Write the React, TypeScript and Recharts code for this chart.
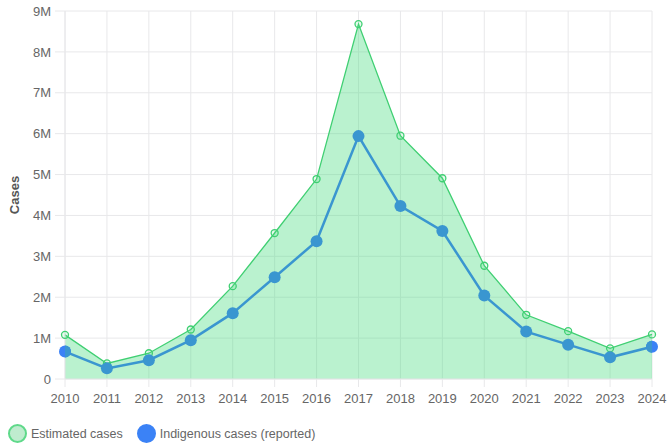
import { ComposedChart, Area, Line, XAxis, YAxis, CartesianGrid, Label } from "recharts";

const years = ["2010", "2011", "2012", "2013", "2014", "2015", "2016", "2017", "2018", "2019", "2020", "2021", "2022", "2023", "2024"];

// values in millions
const estimatedCases = [1.08, 0.38, 0.63, 1.21, 2.27, 3.57, 4.89, 8.68, 5.95, 4.91, 2.77, 1.57, 1.17, 0.75, 1.09];
const indigenousCases = [0.67, 0.26, 0.46, 0.95, 1.61, 2.49, 3.37, 5.94, 4.23, 3.62, 2.04, 1.16, 0.84, 0.53, 0.79];

const yTicks = [0, 1, 2, 3, 4, 5, 6, 7, 8, 9].map((m) => m * 1000000);

const data = years.map((year, i) => ({
  year,
  estimated: estimatedCases[i] * 1000000,
  indigenous: indigenousCases[i] * 1000000,
}));

const GREEN = "#3fcf72";
const GREEN_FILL = "#4ade80";
const BLUE = "#3b82f6";
// blue seen through the green fill
const BLUE_TINT = "#3a96d0";
const GRID = "#e8e8ea";
const FONT = "'Liberation Sans', Arial, Helvetica, sans-serif";

const formatCases = (v: number) => (v === 0 ? "0" : `${v / 1000000}M`);

// dots at the plot edges are half outside the green fill
const BlueDot = (props: any) => {
  const { cx, cy, index } = props;
  const r = 6;
  if (cx == null || cy == null) return null;
  const last = years.length - 1;
  if (index === 0 || index === last) {
    const side = index === 0 ? 1 : 0;
    return (
      <g key={`dot-${index}`}>
        <circle cx={cx} cy={cy} r={r} fill={BLUE} />
        <path
          d={`M ${cx} ${cy - r} A ${r} ${r} 0 0 ${side} ${cx} ${cy + r} Z`}
          fill={BLUE_TINT}
        />
      </g>
    );
  }
  return <circle key={`dot-${index}`} cx={cx} cy={cy} r={r} fill={BLUE_TINT} />;
};

const LegendItem = ({ color, fill, label }: { color: string; fill: string; label: string }) => (
  <div style={{ display: "flex", alignItems: "center", marginRight: 14 }}>
    <span
      style={{
        width: 15,
        height: 15,
        borderRadius: "50%",
        background: fill,
        border: `2px solid ${color}`,
        display: "inline-block",
        marginRight: 4,
      }}
    />
    <span style={{ fontSize: 12.5, color: "#666" }}>{label}</span>
  </div>
);

const App = () => {
  return (
    <div style={{ position: "absolute", left: 0, top: 0, width: 669, height: 448, fontFamily: FONT }}>
      <ComposedChart width={669} height={448} data={data} margin={{ top: 11, right: 17, left: 5, bottom: 39 }}>
        <CartesianGrid stroke={GRID} strokeWidth={1} />
        <XAxis
          dataKey="year"
          scale="point"
          padding={{ left: 0, right: 0 }}
          tick={{ fill: "#666", fontSize: 13, fontFamily: FONT }}
          tickLine={{ stroke: GRID }}
          axisLine={{ stroke: GRID }}
          tickSize={8}
          tickMargin={7}
          height={30}
          interval={0}
        />
        <YAxis
          domain={[0, 9000000]}
          ticks={yTicks}
          tickFormatter={formatCases}
          tick={{ fill: "#666", fontSize: 13, fontFamily: FONT }}
          tickLine={{ stroke: GRID }}
          axisLine={{ stroke: GRID }}
          tickSize={10}
          tickMargin={4}
          width={60}
          interval={0}
        >
          <Label
            content={({ viewBox }: any) => {
              const cx = viewBox.x + 9;
              const cy = viewBox.y + viewBox.height / 2;
              return (
                <text
                  x={cx}
                  y={cy}
                  transform={`rotate(-90, ${cx}, ${cy})`}
                  textAnchor="middle"
                  dominantBaseline="central"
                  fontSize={13}
                  fontWeight="bold"
                  fill="#555"
                  fontFamily={FONT}
                >
                  Cases
                </text>
              );
            }}
          />
        </YAxis>
        <Area
          type="linear"
          dataKey="estimated"
          stroke={GREEN}
          strokeWidth={1.3}
          fill={GREEN_FILL}
          fillOpacity={0.38}
          dot={{ r: 3.5, fill: "rgba(74,222,128,0.35)", stroke: GREEN, strokeWidth: 1.3 }}
          activeDot={false}
          isAnimationActive={false}
        />
        <Line
          type="linear"
          dataKey="indigenous"
          stroke={BLUE_TINT}
          strokeWidth={2.5}
          dot={BlueDot}
          activeDot={false}
          isAnimationActive={false}
        />
      </ComposedChart>
      <div style={{ position: "absolute", left: 8, top: 424, display: "flex", alignItems: "center" }}>
        <LegendItem color="#5fd98a" fill="#bfeccf" label="Estimated cases" />
        <LegendItem color={BLUE} fill={BLUE} label="Indigenous cases (reported)" />
      </div>
    </div>
  );
};

export default App;
